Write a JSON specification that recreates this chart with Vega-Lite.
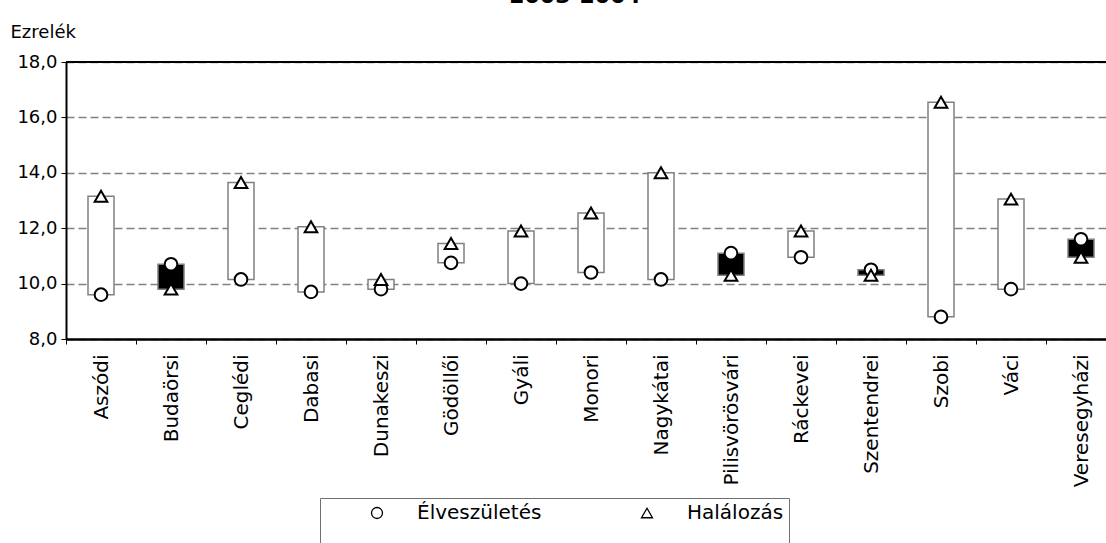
{
  "$schema": "https://vega.github.io/schema/vega-lite/v6.json",
  "width": 1040,
  "height": 277,
  "autosize": {"type": "none"},
  "padding": {"left": 66, "top": 62, "right": 0, "bottom": 204},
  "background": "white",
  "title": {"text": "2003-2004", "font": "DejaVu Sans", "fontSize": 22, "fontWeight": "bold", "anchor": "middle", "frame": "group", "dx": -11, "dy": 6, "baseline": "alphabetic", "color": "black"},
  "config": {"view": {"stroke": null}, "font": "DejaVu Sans"},
  "data": {"values": [
    {"district": "Aszódi", "Élveszületés": 9.6, "Halálozás": 13.15},
    {"district": "Budaörsi", "Élveszületés": 10.7, "Halálozás": 9.8},
    {"district": "Ceglédi", "Élveszületés": 10.15, "Halálozás": 13.65},
    {"district": "Dabasi", "Élveszületés": 9.7, "Halálozás": 12.05},
    {"district": "Dunakeszi", "Élveszületés": 9.8, "Halálozás": 10.15},
    {"district": "Gödöllői", "Élveszületés": 10.75, "Halálozás": 11.45},
    {"district": "Gyáli", "Élveszületés": 10.0, "Halálozás": 11.9},
    {"district": "Monori", "Élveszületés": 10.4, "Halálozás": 12.55},
    {"district": "Nagykátai", "Élveszületés": 10.15, "Halálozás": 14.0},
    {"district": "Pilisvörösvári", "Élveszületés": 11.1, "Halálozás": 10.3},
    {"district": "Ráckevei", "Élveszületés": 10.95, "Halálozás": 11.9},
    {"district": "Szentendrei", "Élveszületés": 10.5, "Halálozás": 10.3},
    {"district": "Szobi", "Élveszületés": 8.8, "Halálozás": 16.55},
    {"district": "Váci", "Élveszületés": 9.8, "Halálozás": 13.05},
    {"district": "Veresegyházi", "Élveszületés": 11.6, "Halálozás": 10.95}
  ]},
  "layer": [
    {
      "mark": {"type": "bar", "size": 26, "stroke": "#808080", "strokeWidth": 1.5},
      "encoding": {
        "x": {"field": "district", "type": "nominal", "sort": null, "title": null,
          "scale": {"range": [0, 1050], "paddingInner": 0, "paddingOuter": 0},
          "axis": {"domainColor": "black", "domainWidth": 2.5, "tickBand": "extent", "tickColor": "black", "tickSize": 5, "tickWidth": 1,
            "labelAngle": -90, "labelAlign": "right", "labelBaseline": "middle", "labelFontSize": 20, "labelColor": "black", "labelPadding": 10, "labelFont": "DejaVu Sans"}},
        "y": {"field": "Élveszületés", "type": "quantitative",
          "scale": {"domain": [8, 18], "nice": false, "zero": false},
          "axis": {"title": "Ezrelék", "titleAngle": 0, "titleAlign": "left", "titleBaseline": "alphabetic", "titleX": -56, "titleY": -25,
            "titleFontSize": 18, "titleFontWeight": "normal", "titleColor": "black", "titleFont": "DejaVu Sans",
            "values": [8, 10, 12, 14, 16, 18], "labelExpr": "replace(format(datum.value, '.1f'), '.', ',')",
            "labelFontSize": 18, "labelColor": "black", "labelFont": "DejaVu Sans", "labelPadding": 4,
            "domainColor": "black", "domainWidth": 2, "tickColor": "black", "tickSize": 5, "tickWidth": 1,
            "grid": true, "gridColor": "#808080", "gridDash": [8, 4], "gridWidth": 1.5}},
        "y2": {"field": "Halálozás"},
        "fill": {"condition": {"test": "datum['Élveszületés'] > datum['Halálozás']", "value": "black"}, "value": "white"}
      }
    },
    {
      "mark": {"type": "rule", "color": "black", "strokeWidth": 2},
      "encoding": {"y": {"datum": 18, "type": "quantitative", "axis": {"title": "Ezrelék"}}}
    },
    {
      "transform": [{"fold": ["Élveszületés", "Halálozás"], "as": ["series", "value"]}],
      "mark": {"type": "point", "filled": false, "fill": "white", "fillOpacity": 1, "stroke": "black", "strokeWidth": 2, "opacity": 1, "size": 160},
      "encoding": {
        "x": {"field": "district", "type": "nominal", "sort": null},
        "y": {"field": "value", "type": "quantitative", "axis": {"title": "Ezrelék"}},
        "shape": {"field": "series", "type": "nominal",
          "scale": {"domain": ["Élveszületés", "Halálozás"], "range": ["circle", "triangle-up"]},
          "legend": {"orient": "none", "legendX": 254, "legendY": 436, "direction": "horizontal", "title": " ", "titleOrient": "bottom", "titleFontSize": 20, "titlePadding": 5,
            "strokeColor": "#707070", "padding": 5, "symbolSize": 121, "symbolStrokeWidth": 1.3, "symbolOffset": 42,
            "labelFontSize": 20, "labelFont": "DejaVu Sans", "labelColor": "black", "labelOffset": 30, "columnPadding": 53,
            "labelExpr": "datum.label == 'Halálozás' ? datum.label + '\u00a0\u00a0\u00a0\u00a0\u00a0\u00a0\u00a0\u00a0\u00a0\u00a0\u00a0' : datum.label"}}
      }
    }
  ]
}
